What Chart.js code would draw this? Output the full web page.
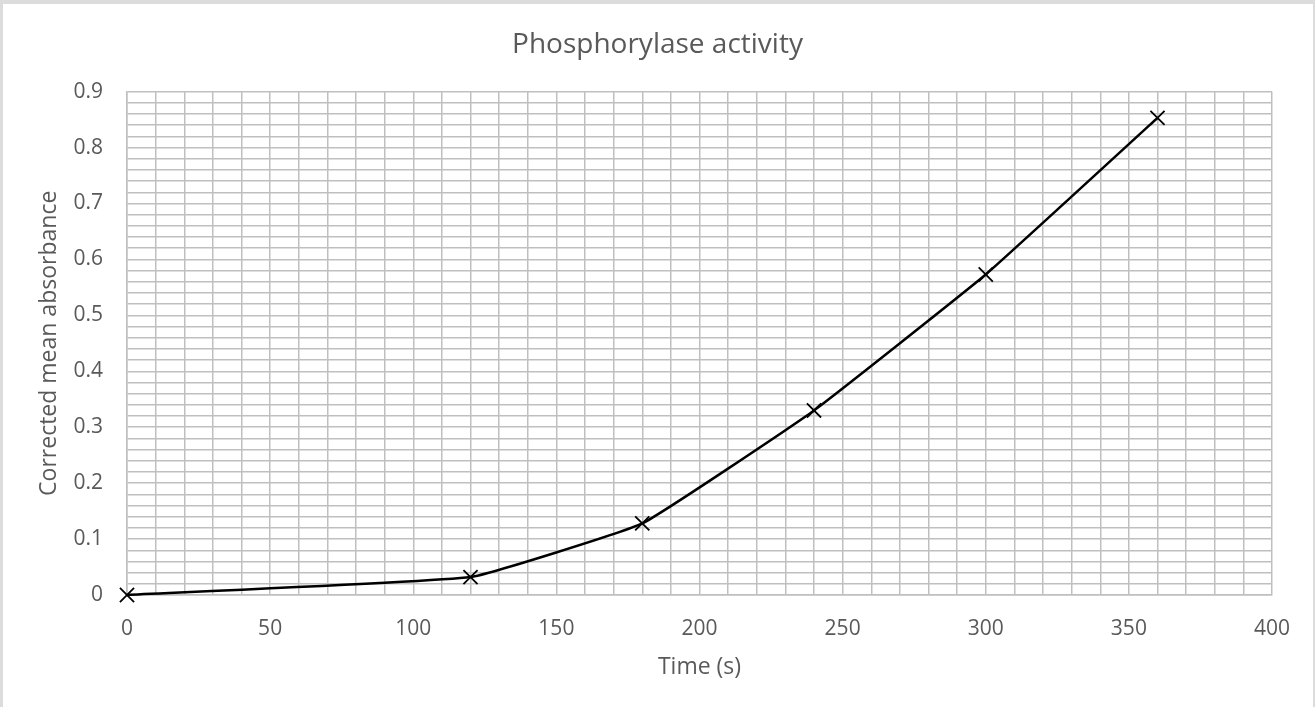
<!DOCTYPE html>
<html>
<head>
<meta charset="utf-8">
<script src="https://cdn.jsdelivr.net/npm/chart.js@4/dist/chart.umd.min.js"></script>
<style>
  html, body { margin: 0; padding: 0; background: #fff; }
  #wrap { position: relative; width: 1315px; height: 707px; }
  #frame {
    position: absolute; left: 0; top: 0; right: 0; bottom: 0;
    border-top: 4px solid #dcdcdc; border-left: 3px solid #dcdcdc; border-right: 2px solid #dcdcdc;
    pointer-events: none;
  }
</style>
</head>
<body>
<div id="wrap">
  <canvas id="chart" width="1315" height="707"></canvas>
  <div id="frame"></div>
</div>
<script>
// Time (s) and corrected mean absorbance
const timeSeconds = [0, 120, 180, 240, 300, 360];
const absorbance = [0, 0.032, 0.128, 0.33, 0.573, 0.853];

const xTickLabels = [0, 50, 100, 150, 200, 250, 300, 350, 400];
const yTickLabels = ['0', '0.1', '0.2', '0.3', '0.4', '0.5', '0.6', '0.7', '0.8', '0.9'];

const textColor = '#595959';
const gridColor = '#bfbfbf';
const fontFamily = '"Open Sans", sans-serif';

const ctx = document.getElementById('chart').getContext('2d');

new Chart(ctx, {
  type: 'line',
  data: {
    datasets: [
      {
        label: 'Corrected mean absorbance',
        data: timeSeconds.map((t, i) => ({ x: t, y: absorbance[i] })),
        borderColor: '#000',
        backgroundColor: '#000',
        borderWidth: 2.5,
        tension: 0.1,
        fill: false,
        pointStyle: 'crossRot',
        pointRadius: 10,
        pointBorderWidth: 1.8,
        pointBorderColor: '#000',
        clip: false,
      },
    ],
  },
  options: {
    responsive: false,
    animation: false,
    layout: { padding: 0 },
    plugins: {
      legend: { display: false },
      tooltip: { enabled: false },
      title: {
        display: true,
        text: 'Phosphorylase activity',
        color: textColor,
        font: { family: fontFamily, size: 28, weight: 'normal' },
        padding: { top: 28, bottom: 30 },
      },
    },
    scales: {
      x: {
        type: 'linear',
        min: 0,
        max: 400,
        afterFit(scale) { scale.height = 112; },
        grid: { color: gridColor, lineWidth: 1.5, drawTicks: false },
        border: { color: gridColor, width: 1.5 },
        ticks: {
          stepSize: 10,
          autoSkip: false,
          maxTicksLimit: 100,
          maxRotation: 0,
          padding: 21,
          color: textColor,
          font: { family: fontFamily, size: 21 },
          callback: (v) => (xTickLabels.includes(v) ? String(v) : ''),
        },
        title: {
          display: true,
          text: 'Time (s)',
          color: textColor,
          font: { family: fontFamily, size: 23 },
          padding: { top: 0, bottom: 26 },
        },
      },
      y: {
        type: 'linear',
        min: 0,
        max: 0.9,
        afterFit(scale) { scale.width = 127; },
        grid: { color: gridColor, lineWidth: 1.5, drawTicks: false },
        border: { color: gridColor, width: 1.5 },
        ticks: {
          stepSize: 0.02,
          autoSkip: false,
          maxTicksLimit: 100,
          padding: 24,
          color: textColor,
          font: { family: fontFamily, size: 21 },
          callback: (v) => {
            const label = String(Math.round(v * 100) / 100);
            return yTickLabels.includes(label) ? label : '';
          },
        },
        title: {
          display: true,
          text: 'Corrected mean absorbance',
          color: textColor,
          font: { family: fontFamily, size: 23 },
          padding: { top: 36, bottom: 0 },
        },
      },
      // empty right-hand margin so the title stays centred on the whole chart
      yRight: {
        type: 'linear',
        position: 'right',
        min: 0,
        max: 0.9,
        afterFit(scale) { scale.width = 43; },
        grid: { display: false, drawTicks: false },
        border: { display: false },
        ticks: { display: false },
      },
    },
  },
});
</script>
</body>
</html>
